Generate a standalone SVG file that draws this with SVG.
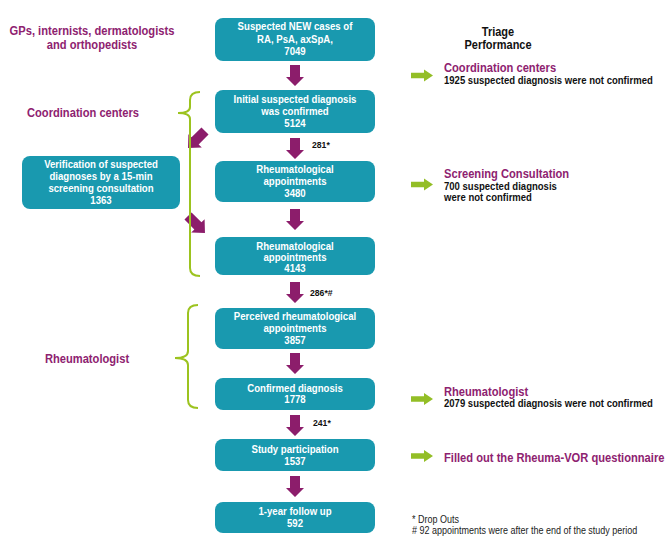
<svg xmlns="http://www.w3.org/2000/svg" width="669" height="551" viewBox="0 0 669 551">
<style>
.box{fill:#1999AF;}
.bt{font-family:"Liberation Sans",Arial,sans-serif;font-weight:bold;font-size:10.7px;fill:#ffffff;text-anchor:middle;}
.lab{font-family:"Liberation Sans",Arial,sans-serif;font-weight:bold;font-size:12.4px;fill:#8E2270;}
.mid{text-anchor:middle;}
.blk{font-family:"Liberation Sans",Arial,sans-serif;font-weight:bold;font-size:10.6px;fill:#111111;}
.hdr{font-family:"Liberation Sans",Arial,sans-serif;font-weight:bold;font-size:12.2px;fill:#111111;text-anchor:middle;}
.num{font-family:"Liberation Sans",Arial,sans-serif;font-weight:bold;font-size:9.6px;fill:#111111;}
.foot{font-family:"Liberation Sans",Arial,sans-serif;font-size:10px;fill:#222222;}
.parr{fill:#8C1D6B;}
.garr{fill:#93BE26;}
.brace{fill:none;stroke:#9CC31F;stroke-width:2;}
</style>
<defs>
<path id="down" d="M-5,0 H5 V12 H9 L0,21 L-9,12 H-5 Z"/>
<path id="diag" d="M-5,0 H5 V14 H9.5 L0,24 L-9.5,14 H-5 Z"/>
<path id="right" d="M0,-2.8 H13 V-6 L22,0 L13,6 V2.8 H0 Z"/>
</defs>

<g id="labels-left">
<g transform="translate(92 0) scale(0.9 1)">
<text class="lab mid" x="0" y="35">GPs, internists, dermatologists</text>
<text class="lab mid" x="0" y="49">and orthopedists</text>
</g>
<g transform="translate(83 0) scale(0.9 1)">
<text class="lab mid" x="0" y="117">Coordination centers</text>
</g>
<g transform="translate(87 0) scale(0.9 1)">
<text class="lab mid" x="0" y="363">Rheumatologist</text>
</g>
</g>

<g id="triage-header" transform="translate(498 0) scale(0.9 1)">
<text class="hdr" x="0" y="36">Triage</text>
<text class="hdr" x="0" y="49.5">Performance</text>
</g>

<g id="node-suspected">
<rect class="box" x="215" y="18" width="160" height="43" rx="8"/>
<g transform="translate(295 0) scale(0.9 1)">
<text class="bt" x="0" y="30.5">Suspected NEW cases of</text>
<text class="bt" x="0" y="43">RA, PsA, axSpA,</text>
<text class="bt" x="0" y="55.5">7049</text>
</g>
</g>

<g id="node-initial">
<rect class="box" x="215" y="90" width="160" height="43" rx="8"/>
<g transform="translate(295 0) scale(0.9 1)">
<text class="bt" x="0" y="103.5">Initial suspected diagnosis</text>
<text class="bt" x="0" y="115.5">was confirmed</text>
<text class="bt" x="0" y="127.5">5124</text>
</g>
</g>

<g id="node-verification">
<rect class="box" x="22" y="156" width="158" height="53" rx="8"/>
<g transform="translate(101 0) scale(0.9 1)">
<text class="bt" x="0" y="168.5">Verification of suspected</text>
<text class="bt" x="0" y="180.3">diagnoses by a 15-min</text>
<text class="bt" x="0" y="192">screening consultation</text>
<text class="bt" x="0" y="203.7">1363</text>
</g>
</g>

<g id="node-rheum-3480">
<rect class="box" x="215" y="161" width="160" height="41" rx="8"/>
<g transform="translate(295 0) scale(0.9 1)">
<text class="bt" x="0" y="173.5">Rheumatological</text>
<text class="bt" x="0" y="185.5">appointments</text>
<text class="bt" x="0" y="197">3480</text>
</g>
</g>

<g id="node-rheum-4143">
<rect class="box" x="215" y="237" width="160" height="38" rx="8"/>
<g transform="translate(295 0) scale(0.9 1)">
<text class="bt" x="0" y="250.5">Rheumatological</text>
<text class="bt" x="0" y="261.5">appointments</text>
<text class="bt" x="0" y="272.5">4143</text>
</g>
</g>

<g id="node-perceived">
<rect class="box" x="215" y="308" width="160" height="41" rx="8"/>
<g transform="translate(295 0) scale(0.9 1)">
<text class="bt" x="0" y="320.5">Perceived rheumatological</text>
<text class="bt" x="0" y="332.5">appointments</text>
<text class="bt" x="0" y="344.5">3857</text>
</g>
</g>

<g id="node-confirmed">
<rect class="box" x="215" y="378" width="160" height="32" rx="8"/>
<g transform="translate(295 0) scale(0.9 1)">
<text class="bt" x="0" y="392.5">Confirmed diagnosis</text>
<text class="bt" x="0" y="403.5">1778</text>
</g>
</g>

<g id="node-study">
<rect class="box" x="215" y="439" width="160" height="32" rx="8"/>
<g transform="translate(295 0) scale(0.9 1)">
<text class="bt" x="0" y="453.5">Study participation</text>
<text class="bt" x="0" y="465.5">1537</text>
</g>
</g>

<g id="node-followup">
<rect class="box" x="215" y="502" width="160" height="31" rx="8"/>
<g transform="translate(295 0) scale(0.9 1)">
<text class="bt" x="0" y="515.5">1-year follow up</text>
<text class="bt" x="0" y="527.5">592</text>
</g>
</g>

<g id="connectors">
<use href="#down" class="parr" x="295" y="65"/>
<use href="#down" class="parr" x="295" y="138"/>
<use href="#down" class="parr" x="295" y="209"/>
<use href="#down" class="parr" x="295" y="282"/>
<use href="#down" class="parr" x="295" y="353"/>
<use href="#down" class="parr" x="295" y="415"/>
<use href="#down" class="parr" x="295" y="476"/>
<use href="#diag" class="parr" transform="translate(205,131) rotate(45)"/>
<use href="#diag" class="parr" transform="translate(188,216) rotate(-45)"/>
<use href="#right" class="garr" x="411" y="75.5"/>
<use href="#right" class="garr" x="411" y="184.5"/>
<use href="#right" class="garr" x="411" y="399"/>
<use href="#right" class="garr" x="411" y="456"/>
<path class="brace" d="M200,92 Q190,92 190,100 L190,107 Q190,113 178,113 Q190,113 190,119 L190,268 Q190,276 200,276"/>
<path class="brace" d="M198,305 Q188,305 188,313 L188,351 Q188,358 175,358 Q188,358 188,365 L188,400 Q188,408 198,408"/>
<g transform="translate(312 0) scale(0.9 1)"><text class="num" x="0" y="148">281*</text></g>
<g transform="translate(310 0) scale(0.9 1)"><text class="num" x="0" y="296">286*#</text></g>
<g transform="translate(313 0) scale(0.9 1)"><text class="num" x="0" y="426">241*</text></g>
</g>

<g id="labels-right" transform="translate(444 0) scale(0.9 1)">
<text class="lab" x="0" y="72">Coordination centers</text>
<text class="blk" x="0" y="84.5">1925 suspected diagnosis were not confirmed</text>
<text class="lab" x="0" y="178">Screening Consultation</text>
<text class="blk" x="0" y="190.5">700 suspected diagnosis</text>
<text class="blk" x="0" y="201.5">were not confirmed</text>
<text class="lab" x="0" y="396">Rheumatologist</text>
<text class="blk" x="0" y="407.5">2079 suspected diagnosis were not confirmed</text>
<text class="lab" x="0" y="462">Filled out the Rheuma-VOR questionnaire</text>
</g>

<g id="footnotes" transform="translate(412 0) scale(0.9 1)">
<text class="foot" x="0" y="523">* Drop Outs</text>
<text class="foot" x="0" y="534.5"># 92 appointments were after the end of the study period</text>
</g>
</svg>
